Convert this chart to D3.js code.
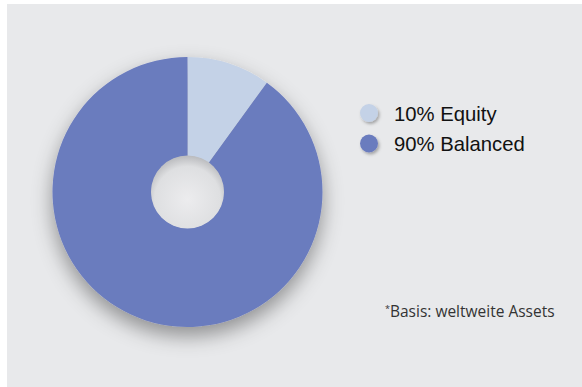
<!DOCTYPE html>
<html><head><meta charset="utf-8">
<script src="https://cdn.jsdelivr.net/npm/d3@7"></script>
<style>html,body{margin:0;padding:0;background:#fff;}svg{display:block;}</style>
</head><body>
<script>
const categories = ["Equity", "Balanced"];
const values = [10, 90];
const labels = ["10% Equity", "90% Balanced"];
const colors = ["#c4d2e7", "#6a7bbe"];
const footnote = "Basis: weltweite Assets";

const W = 582, H = 387;
const svg = d3.select("body").append("svg").attr("width", W).attr("height", H);
const defs = svg.append("defs");
const f = defs.append("filter").attr("id", "sh").attr("x", "-30%").attr("y", "-30%").attr("width", "160%").attr("height", "170%");
f.append("feDropShadow").attr("dx", 0).attr("dy", 9).attr("stdDeviation", 10).attr("flood-color", "#000").attr("flood-opacity", 0.38);
const f2 = defs.append("filter").attr("id", "sh2").attr("x", "-50%").attr("y", "-50%").attr("width", "200%").attr("height", "200%");
f2.append("feDropShadow").attr("dx", 1.5).attr("dy", 2).attr("stdDeviation", 1.8).attr("flood-color", "#000").attr("flood-opacity", 0.3);
const hg = defs.append("radialGradient").attr("id", "hole").attr("cx", "50%").attr("cy", "60%").attr("r", "60%");
hg.append("stop").attr("offset", "0%").attr("stop-color", "#ececee");
hg.append("stop").attr("offset", "75%").attr("stop-color", "#dedfe1");
hg.append("stop").attr("offset", "100%").attr("stop-color", "#b9babd");

svg.append("rect").attr("x", 7).attr("y", 4).attr("width", W - 7).attr("height", H - 4).attr("fill", "#e8e9eb");

const cx = 187.5, cy = 192, R = 135, r = 36;
const pie = d3.pie().sort(null).value(d => d);
const arc = d3.arc().innerRadius(r).outerRadius(R);
const g = svg.append("g").attr("transform", `translate(${cx},${cy})`);
const pg = g.append("g").attr("filter", "url(#sh)");
pg.selectAll("path").data(pie(values)).join("path")
  .attr("d", arc).attr("fill", (d, i) => colors[i]);
g.append("circle").attr("r", r + 0.5).attr("fill", "url(#hole)");

const leg = svg.append("g").attr("transform", "translate(369,113)");
const items = leg.selectAll("g").data(labels).join("g").attr("transform", (d, i) => `translate(0,${i * 30.5})`);
items.append("circle").attr("r", 9).attr("fill", (d, i) => colors[i]).attr("filter", "url(#sh2)");
items.append("text").attr("x", 25).attr("y", 7.5).text(d => d)
  .attr("font-family", "Liberation Sans, Arial, sans-serif").attr("font-size", 20.3).attr("fill", "#111");

const ft = svg.append("text").attr("x", 385).attr("y", 317)
  .attr("font-family", "Open Sans, sans-serif").attr("font-size", 15.5).attr("fill", "#333");
ft.append("tspan").attr("font-size", 9).attr("dy", -5).text("*");
ft.append("tspan").attr("dy", 5).text(footnote);
</script>
</body></html>
